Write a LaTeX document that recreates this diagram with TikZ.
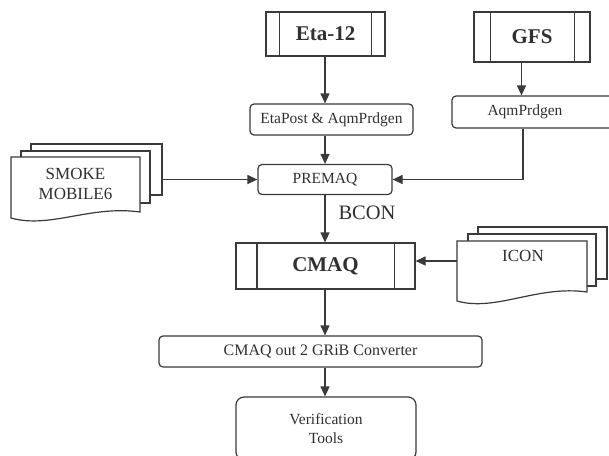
\documentclass[tikz,border=0pt]{standalone}
\usepackage{fontspec}
\setmainfont{LiberationSerif}[Extension=.ttf, UprightFont=*-Regular, BoldFont=*-Bold,
  ItalicFont=*-Italic, BoldItalicFont=*-BoldItalic]
\usetikzlibrary{arrows.meta}
\definecolor{linegray}{HTML}{3A3A3A}
\definecolor{textgray}{HTML}{303030}
\begin{document}
\begin{tikzpicture}[x=1pt,y=-1pt,
  ink/.style={draw=linegray, line width=1.2pt},
  procbox/.style={ink, rounded corners=4pt, fill=white, inner sep=0pt,
    text=textgray, font=\fontsize{15.5}{18}\selectfont},
  predef/.style={ink, fill=white, inner sep=0pt, text=textgray,
    font=\bfseries\fontsize{21}{24}\selectfont},
  doctext/.style={draw=none, inner sep=0pt, align=center, text=textgray,
    font=\fontsize{17}{20}\selectfont},
  arr/.style={ink, -{Triangle[length=10pt,width=9pt]}},
  page/.style={ink, fill=white},
]
\fill[white] (0,0) rectangle (609,455);
\useasboundingbox (0,0) rectangle (609,455);

% model inputs (predefined-process boxes)
\node[predef, minimum width=119pt, minimum height=44pt] (eta) at (325.5,34) {Eta-12};
\draw[ink] ([xshift=14pt]eta.north west) -- ([xshift=14pt]eta.south west);
\draw[ink] ([xshift=-14pt]eta.north east) -- ([xshift=-14pt]eta.south east);

\node[predef, minimum width=116pt, minimum height=50pt] (gfs) at (532,37) {GFS};
\draw[ink] ([xshift=17pt]gfs.north west) -- ([xshift=17pt]gfs.south west);
\draw[ink] ([xshift=-16pt]gfs.north east) -- ([xshift=-16pt]gfs.south east);

% post-processing steps
\node[procbox, minimum width=163pt, minimum height=31pt] (etapost) at (331.5,119.5) {EtaPost \& AqmPrdgen};
\node[procbox, minimum width=163pt, minimum height=32pt] (aqm) at (533.5,112) {AqmPrdgen\hspace*{17pt}};
\node[procbox, minimum width=134pt, minimum height=30pt] (premaq) at (325,179.5) {PREMAQ};

% emission input documents
\draw[page] (31,144) rectangle (162,195);
\draw[page] (21,151) rectangle (150,203);
\draw[page] (11,157) -- (140,157) -- (140,212)
  .. controls (90,205) and (50,229) .. (11,218) -- cycle;
\node[doctext, minimum width=129pt, minimum height=55pt] (smoke) at (75.5,183.5) {SMOKE\\MOBILE6};
\coordinate (smokeout) at (162,179.5);

% initial-condition documents
\draw[page] (478,227) rectangle (607,279);
\draw[page] (468,234) rectangle (596,286);
\draw[page] (457,241) -- (587,241) -- (587,292)
  .. controls (537,285) and (496,312) .. (457,301) -- cycle;
\node[doctext] (icon) at (523,256) {ICON};
\coordinate (iconout) at (457,261);

% chemistry model
\node[predef, minimum width=179pt, minimum height=46pt] (cmaq) at (325.5,266) {CMAQ};
\draw[ink] ([xshift=21.5pt]cmaq.north west) -- ([xshift=21.5pt]cmaq.south west);
\draw[ink] ([xshift=-21.5pt]cmaq.north east) -- ([xshift=-21.5pt]cmaq.south east);

\node[draw=none, text=textgray, font=\fontsize{20.5}{24}\selectfont] (bcon) at (367,213) {BCON};

% output chain
\node[procbox, minimum width=323pt, minimum height=31pt, font=\fontsize{16}{19}\selectfont] (conv) at (320.5,351.5) {CMAQ out 2 GRiB Converter};
\node[procbox, rounded corners=8pt, minimum width=180pt, minimum height=63pt, align=center,
  font=\fontsize{15.5}{19}\selectfont] (verif) at (326,428.5) {Verification\\Tools};

% connectors
\draw[arr] (eta.south -| 325,0) -- (325,0 |- etapost.north);
\draw[arr] (325,0 |- etapost.south) -- (325,0 |- premaq.north);
\draw[arr] ([xshift=-10.5pt]gfs.south) -- ([xshift=-10.5pt]gfs.south |- aqm.north);
\draw[arr] ([xshift=-10.5pt]aqm.south) |- (premaq.east);
\draw[arr] (smokeout) -- (premaq.west);
\draw[arr] (325,0 |- premaq.south) -- (325,0 |- cmaq.north);
\draw[arr] (iconout) -- (iconout -| cmaq.east);
\draw[arr] (325,0 |- cmaq.south) -- (325,0 |- conv.north);
\draw[arr] (325,0 |- conv.south) -- (325,0 |- verif.north);
\end{tikzpicture}
\end{document}
